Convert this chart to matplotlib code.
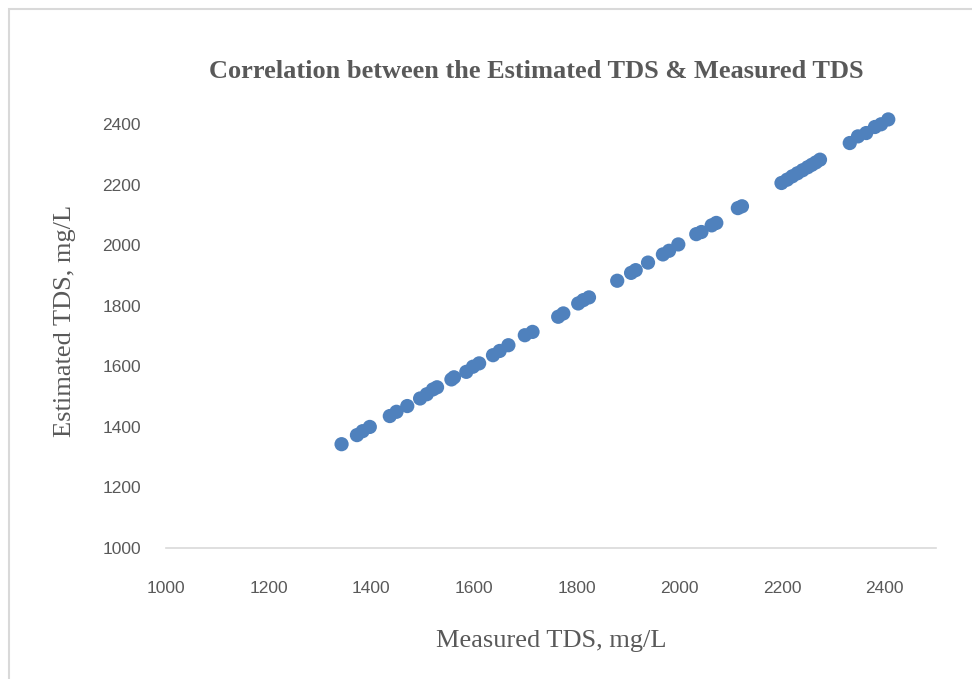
import matplotlib
matplotlib.use("Agg")
import matplotlib.pyplot as plt
from matplotlib.patches import Rectangle

# values
measured = [
	1342, 1372, 1383, 1397, 1436, 1449, 1470, 1495, 1508, 1520, 1528,
	1556, 1561, 1585, 1598, 1610, 1637, 1650, 1667, 1699, 1714,
	1764, 1774, 1803, 1813, 1824, 1879, 1906, 1915, 1939,
	1968, 1980, 1998, 2033, 2043, 2063, 2072, 2114, 2122,
	2199, 2210, 2220, 2230, 2240, 2250, 2258, 2266, 2274,
	2332, 2348, 2364, 2381, 2393, 2407,
]
estimated = [
	1343, 1373, 1386, 1400, 1436, 1450, 1469, 1494, 1508, 1524, 1531,
	1557, 1564, 1582, 1599, 1610, 1637, 1651, 1670, 1703, 1714,
	1764, 1775, 1808, 1819, 1828, 1883, 1909, 1918, 1943,
	1970, 1982, 2003, 2037, 2044, 2066, 2074, 2123, 2129,
	2206, 2217, 2228, 2238, 2248, 2258, 2266, 2274, 2283,
	2338, 2360, 2371, 2391, 2400, 2416,
]
ticks = [1000, 1200, 1400, 1600, 1800, 2000, 2200, 2400]

GRAY = "#595959"
BLUE = "#4F81BD"
SERIF = ["Liberation Serif", "DejaVu Serif"]
NARROW = ["Liberation Sans Narrow", "Liberation Sans", "DejaVu Sans"]

fig = plt.figure(figsize=(9.72, 6.79), dpi=100)
fig.patches.append(Rectangle(
	(9 / 972, -0.1), 1.2, 1 - 9 / 679 + 0.1, transform=fig.transFigure,
	fill=False, edgecolor="#D9D9D9", linewidth=1.5,
))

ax = fig.add_axes([166 / 972, 1 - 548 / 679, (936 - 166) / 972, (548 - 94) / 679])
ax.scatter(measured, estimated, s=105, color=BLUE, edgecolors="none", zorder=3)

ax.set_xlim(1000, 2500)
ax.set_ylim(1000, 2500)
ax.set_xticks(ticks)
ax.set_yticks(ticks)
ax.set_xticklabels([str(t) for t in ticks], family=NARROW, fontsize=12.5, color=GRAY)
ax.set_yticklabels([str(t) for t in ticks], family=NARROW, fontsize=12.5, color=GRAY)
ax.tick_params(axis="x", length=0, pad=24)
ax.tick_params(axis="y", length=0, pad=18)

for side in ("top", "right", "left"):
	ax.spines[side].set_visible(False)
ax.spines["bottom"].set_color("#D9D9D9")
ax.spines["bottom"].set_linewidth(1.2)

ax.set_xlabel("Measured TDS, mg/L", family=SERIF, fontsize=19, color=GRAY, labelpad=24)
ax.set_ylabel("Estimated TDS, mg/L", family=SERIF, fontsize=19, color=GRAY, labelpad=19)

fig.text(536 / 972, 1 - 72 / 679, "Correlation between the Estimated TDS & Measured TDS",
	family=SERIF, fontsize=19, fontweight="bold", color=GRAY, ha="center", va="center")

fig.savefig("out.png", dpi=100)
